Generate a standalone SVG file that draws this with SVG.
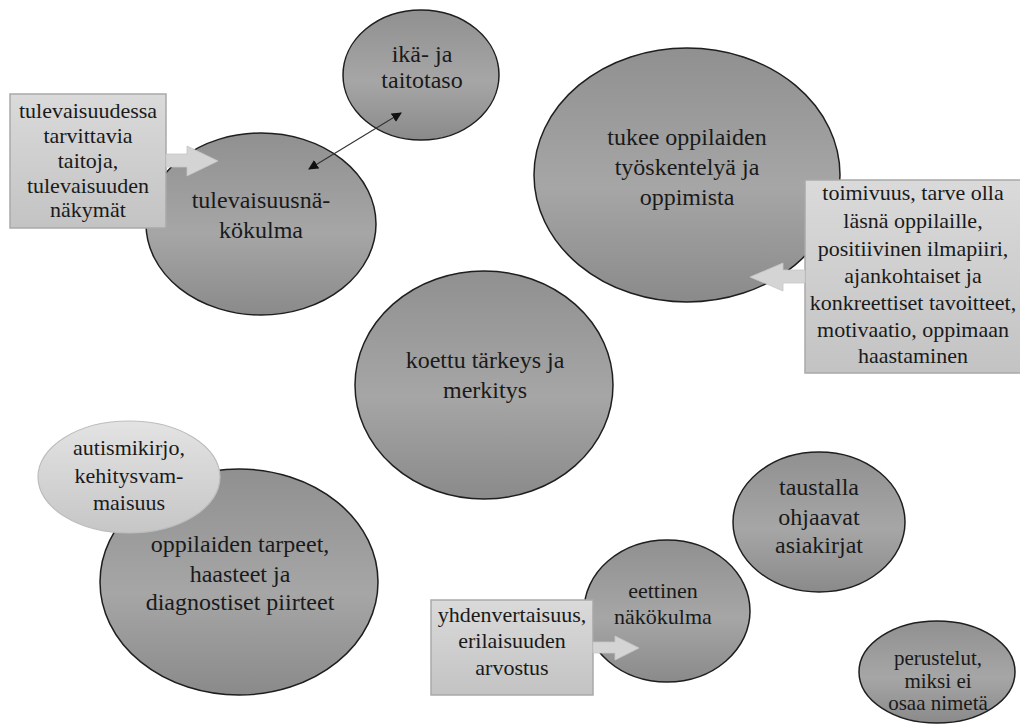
<svg xmlns="http://www.w3.org/2000/svg" width="1020" height="724" viewBox="0 0 1020 724">
<defs>
<linearGradient id="gDark" x1="0" y1="0" x2="0" y2="1">
<stop offset="0" stop-color="#909090"/>
<stop offset="0.55" stop-color="#a6a6a6"/>
<stop offset="1" stop-color="#8a8a8a"/>
</linearGradient>
<linearGradient id="gBox" x1="0" y1="0" x2="0" y2="1">
<stop offset="0" stop-color="#dadada"/>
<stop offset="1" stop-color="#c3c3c3"/>
</linearGradient>
<linearGradient id="gLight" x1="0" y1="0" x2="0" y2="1">
<stop offset="0" stop-color="#e3e3e3"/>
<stop offset="1" stop-color="#c6c6c6"/>
</linearGradient>
<marker id="ah" viewBox="0 0 10 10" refX="9" refY="5" markerWidth="10" markerHeight="10" markerUnits="userSpaceOnUse" orient="auto-start-reverse">
<path d="M0,0 L10,5 L0,10 z" fill="#111"/>
</marker>
<style>
.el{fill:url(#gDark);stroke:#1e1e1e;stroke-width:1.5}
.lt{fill:url(#gLight);stroke:#bdbdbd;stroke-width:1.2}
.bx{fill:url(#gBox);stroke:#a9a9a9;stroke-width:1.5}
.ba{fill:#d4d4d4;stroke:#c6c6c6;stroke-width:0.8}
.tx{font-family:'Liberation Serif','Times New Roman','DejaVu Serif',serif;fill:#1a1a1a;text-anchor:middle}
.t24{font-size:24px}
.t22{font-size:22px}
.t21{font-size:21px}
.cn{stroke:#333;stroke-width:1.1;fill:none}
</style>
</defs>
<rect width="1020" height="724" fill="#ffffff"/>

<g id="ika" class="tx">
<ellipse class="el" cx="421" cy="75" rx="78" ry="65"/>
<text class="t24" x="422" y="62">ikä- ja</text>
<text class="t24" x="422" y="88">taitotaso</text>
</g>

<g id="tulevaisuus" class="tx">
<ellipse class="el" cx="261" cy="224" rx="115" ry="91"/>
<text class="t24" x="261" y="208">tulevaisuusnä-</text>
<text class="t24" x="261" y="238">kökulma</text>
</g>

<g id="tukee" class="tx">
<ellipse class="el" cx="687" cy="175" rx="153" ry="127"/>
<text class="t24" x="687" y="145">tukee oppilaiden</text>
<text class="t24" x="687" y="175">työskentelyä ja</text>
<text class="t24" x="687" y="205">oppimista</text>
</g>

<g id="koettu" class="tx">
<ellipse class="el" cx="484" cy="385" rx="129" ry="114"/>
<text class="t24" x="485" y="368">koettu tärkeys ja</text>
<text class="t24" x="485" y="398">merkitys</text>
</g>

<g id="oppilaiden" class="tx">
<ellipse class="el" cx="239" cy="582" rx="139" ry="113"/>
<text class="t24" x="240" y="552">oppilaiden tarpeet,</text>
<text class="t24" x="240" y="582">haasteet ja</text>
<text class="t24" x="240" y="610">diagnostiset piirteet</text>
</g>

<g id="autismi" class="tx">
<ellipse class="lt" cx="129" cy="477" rx="91" ry="56"/>
<text class="t22" x="129" y="455">autismikirjo,</text>
<text class="t22" x="129" y="483">kehitysvam-</text>
<text class="t22" x="129" y="510">maisuus</text>
</g>

<g id="taustalla" class="tx">
<ellipse class="el" cx="819" cy="522" rx="86" ry="70"/>
<text class="t24" x="819" y="495">taustalla</text>
<text class="t24" x="819" y="525">ohjaavat</text>
<text class="t24" x="819" y="553">asiakirjat</text>
</g>

<g id="eettinen" class="tx">
<ellipse class="el" cx="667" cy="611" rx="83" ry="71"/>
<text class="t22" x="663" y="598">eettinen</text>
<text class="t22" x="663" y="624">näkökulma</text>
</g>

<g id="perustelut" class="tx">
<ellipse class="el" cx="937" cy="672" rx="78" ry="51"/>
<text class="t21" x="938" y="665">perustelut,</text>
<text class="t21" x="938" y="688">miksi ei</text>
<text class="t21" x="938" y="710">osaa nimetä</text>
</g>

<g id="box-tulevaisuudessa" class="tx">
<rect class="bx" x="10" y="94" width="156" height="134"/>
<text class="t22" x="88" y="118">tulevaisuudessa</text>
<text class="t22" x="88" y="143">tarvittavia</text>
<text class="t22" x="88" y="168">taitoja,</text>
<text class="t22" x="88" y="193">tulevaisuuden</text>
<text class="t22" x="88" y="217">näkymät</text>
</g>

<g id="box-toimivuus" class="tx">
<rect class="bx" x="805" y="180" width="216" height="193"/>
<text class="t22" x="913" y="200">toimivuus, tarve olla</text>
<text class="t22" x="913" y="228">läsnä oppilaille,</text>
<text class="t22" x="913" y="256">positiivinen ilmapiiri,</text>
<text class="t22" x="913" y="283">ajankohtaiset ja</text>
<text class="t22" x="913" y="310">konkreettiset tavoitteet,</text>
<text class="t22" x="913" y="337">motivaatio, oppimaan</text>
<text class="t22" x="913" y="363">haastaminen</text>
</g>

<g id="box-yhdenvertaisuus" class="tx">
<rect class="bx" x="431" y="600" width="162" height="95"/>
<text class="t22" x="512" y="622">yhdenvertaisuus,</text>
<text class="t22" x="512" y="648">erilaisuuden</text>
<text class="t22" x="512" y="675">arvostus</text>
</g>

<g id="connectors">
<polygon class="ba" points="166,154 187,154 187,146 218,161 187,176 187,167 166,167"/>
<polygon class="ba" points="805,270 783,270 783,263 750,277 783,291 783,283 805,283"/>
<polygon class="ba" points="593,642 615,642 615,636 639,648 615,660 615,653 593,653"/>
<line class="cn" x1="401" y1="113" x2="309" y2="169" marker-start="url(#ah)" marker-end="url(#ah)"/>
</g>
</svg>
